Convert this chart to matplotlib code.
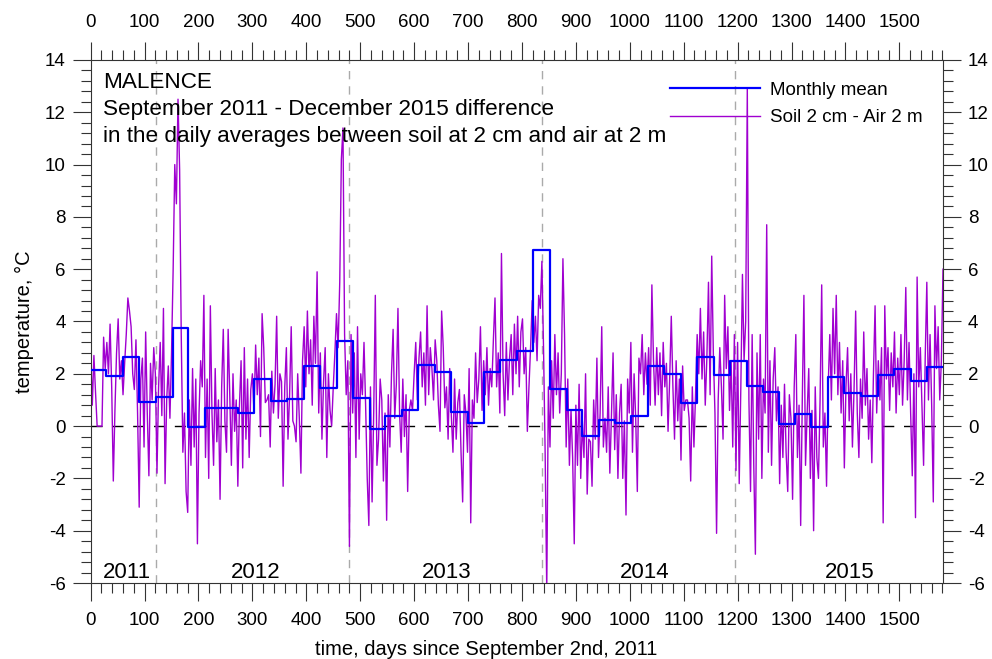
import numpy as np
import pandas as pd
import matplotlib
matplotlib.use("Agg")
import matplotlib.pyplot as plt
from matplotlib.ticker import MultipleLocator

plt.rcParams['font.family'] = ['Liberation Sans', 'DejaVu Sans']
plt.rcParams['axes.unicode_minus'] = False

# Monthly means of soil(2 cm) - air(2 m), Sep 2011 .. Dec 2015
monthly_mean = [
    2.14, 1.90, 2.64, 0.92,
    1.12, 3.76, -0.04, 0.70, 0.68, 0.49, 1.82, 0.95, 1.04, 2.31, 1.47, 3.25,
    1.07, -0.12, 0.38, 0.63, 2.33, 2.07, 0.53, 0.13, 2.07, 2.51, 2.88, 6.74,
    1.40, 0.63, -0.38, 0.24, 0.13, 0.37, 2.31, 1.98, 0.90, 2.64, 1.96, 2.48,
    1.52, 1.32, 0.07, 0.46, -0.03, 1.88, 1.25, 1.16, 1.94, 2.18, 1.72, 2.27,
]

# Difference of daily averages, one value every 3 days from Sep 2nd 2011
soil_air_diff = [
    2.9, 0.8, 2.7, 1.3, 0.0, 0.0, 0.0, 0.0, 3.4, 2.2,
    3.2, 2.0, 3.9, 1.5, -2.1, 0.6, 2.8, 4.1, 1.8, 2.5,
    1.2, 2.4, 3.5, 4.9, 4.4, 3.8, 2.0, 1.4, 3.3, 0.5,
    -3.1, 1.8, 2.6, -0.8, 3.6, 0.5, -1.9, 2.4, 1.0, 3.0,
    2.0, -1.8, 1.5, 3.2, 0.4, 4.5, -2.2, 1.0, 2.3, 0.3,
    2.8, 6.0, 10.0, 8.5, 12.5, 9.8, 3.5, -1.0, 0.5, -2.5,
    -3.3, 1.0, -1.5, 2.2, -0.8, 1.8, -4.5, 0.5, 2.5, 1.5,
    5.0, -1.2, 1.8, -2.0, 4.6, 0.5, -1.5, 2.2, -0.6, 1.0,
    -2.8, 1.5, 3.7, 0.2, -1.0, 3.7, 1.2, -1.5, 2.0, -0.2,
    1.0, -2.3, 0.8, 2.5, -1.6, 3.0, -0.5, 1.8, -1.2, 1.4,
    2.0, 0.5, 3.1, 1.2, 2.6, -0.4, 4.3, 3.0, 0.9, 1.0,
    1.2, -0.8, 2.1, 0.5, 1.6, 4.2, 0.3, 2.0, 1.7, -2.3,
    1.5, 3.0, -0.5, 1.2, 3.8, 0.2, 0.0, -0.6, 2.0, 0.3,
    -1.8, 2.5, 3.8, 1.5, 4.4, 2.0, 3.3, 0.8, 4.2, 2.4,
    5.9, 0.5, 2.8, -0.5, 1.7, 3.0, -1.2, 2.0, 0.6, 0.0,
    1.5, 2.8, 4.3, 3.0, 5.5, 10.2, 11.4, 3.5, 1.2, 2.5,
    -4.6, 3.5, 0.5, 2.8, -1.2, 3.8, -0.5, 2.0, 1.2, 3.2,
    0.8, -2.0, -3.8, 1.5, -2.9, 0.5, 5.0, -1.5, -0.5, 1.8,
    1.0, -2.1, 0.5, -3.6, 1.2, -0.8, 2.0, 3.7, 0.3, 1.6,
    4.5, 0.5, -1.0, 1.8, -0.4, 1.2, -2.5, 0.6, 1.0, 0.6,
    2.0, 3.2, 1.0, 2.6, 3.6, 1.5, 2.8, 0.8, 4.6, 1.2,
    3.0, 2.2, 1.0, 3.3, 2.5, 0.8, -0.2, 4.4, 3.0, 0.7,
    1.5, -0.5, 2.2, 0.4, -1.0, 1.8, -0.5, 0.9, 1.4, -1.0,
    -2.9, 1.2, 0.5, -1.0, 2.2, -3.7, 1.0, 0.3, 2.8, 0.9,
    1.8, 3.8, 0.6, 2.5, 1.2, 3.0, 0.8, 2.2, 1.5, 3.3,
    4.9, 1.5, 2.8, 0.5, 6.6, 2.0, 0.4, 3.2, 1.0, 2.6,
    3.5, 1.2, 3.9, 2.0, 4.2, 1.5, 3.6, 4.1, 2.0, 3.0,
    -0.2, 1.5, 3.0, 4.8, 3.2, 4.2, 2.5, 5.0, 4.5, 6.3,
    3.0, -1.0, -6.3, 1.5, -0.8, 2.5, 0.3, 3.5, 1.2, 2.8,
    0.5, 2.0, 6.4, 3.5, -0.8, 1.8, -1.5, 0.6, -1.2, -4.5,
    0.8, -1.5, 1.6, -2.0, 0.2, -1.2, 2.0, -2.6, -0.5, -0.6,
    -2.3, 1.0, -0.5, 2.6, -1.2, 0.5, 3.8, -0.8, 0.3, -1.0,
    1.5, -1.8, 0.4, 2.8, -0.9, 1.2, -2.0, 0.5, 1.6, -2.0,
    0.2, -3.4, 1.8, 0.5, 3.2, -1.0, 2.0, 0.3, -2.5, 2.6,
    2.0, 3.5, 1.2, 2.8, 1.6, 3.0, 0.8, 5.4, 2.5, 0.8,
    3.0, 1.2, 2.8, 0.4, 3.2, 1.5, 2.4, -0.2, 1.8, 4.2,
    1.5, -0.5, 2.5, 0.2, 1.8, -1.3, 2.3, 0.6, 1.0, 1.0,
    0.3, -2.1, 1.5, -0.8, 1.2, 3.5, 2.0, 4.5, 1.8, 3.6,
    0.8, 2.6, 5.5, 1.2, 6.5, 2.8, 0.5, -4.1, 1.0, 3.0,
    1.5, -0.5, 5.0, 2.2, 3.8, 0.6, 2.5, -0.8, 3.5, -1.7,
    3.2, -2.2, 1.5, 5.8, 2.5, 4.0, 12.9, 1.0, -2.5, 3.5,
    -1.5, -4.9, 2.8, -0.5, 3.5, -2.0, 1.8, 0.5, 7.7, -1.0,
    2.5, -1.5, 1.8, 3.0, 0.2, 1.5, -2.2, 0.8, -1.2, 1.6,
    -1.0, -2.5, 1.2, 0.3, -2.8, 1.5, 3.5, -1.2, 0.8, -3.8,
    1.0, 5.0, -1.5, 0.5, 2.2, -2.0, 0.6, -4.0, 1.5, -1.2,
    -2.0, 1.0, 5.4, -0.8, 0.5, -2.3, 1.5, 3.5, 1.0, 4.5,
    2.0, 5.0, 1.2, 3.2, 0.5, 2.5, -1.6, 1.5, 3.0, 0.2,
    2.0, -0.8, 1.4, 4.4, 0.5, -1.2, 1.8, 0.3, 3.6, 0.8,
    2.2, -0.5, 1.0, -1.4, 2.0, 4.6, 0.5, 2.5, 1.0, 3.0,
    -3.7, 4.6, 1.8, 3.0, 0.6, 2.8, 1.5, 3.6, 0.5, 2.6,
    1.2, 3.5, 0.8, 2.5, 5.3, 1.0, 3.2, 0.5, -1.9, 2.0,
    -3.5, 5.7, 1.5, 3.0, 0.8, -1.5, 2.6, 5.5, 1.0, 3.5,
    0.8, -2.9, 4.6, 2.2, 3.8, 1.0, 2.5, 6.0,
]

years = ["2011", "2012", "2013", "2014", "2015"]
year_label_days = [67, 307, 661, 1027, 1407]
year_break_days = [121, 479, 837, 1195]

start = pd.Timestamp("2011-09-02")
month_starts = pd.date_range("2011-10-01", "2016-01-01", freq="MS")
month_edges = np.array([0] + [(d - start).days for d in month_starts])
diff_days = np.arange(len(soil_air_diff)) * 3

purple = "#a000d0"
blue = "#0000ff"
axis_col = "#333333"

fig = plt.figure(figsize=(9.92, 6.59), dpi=100)
ax = fig.add_axes([0.0914, 0.1153, 0.8592, 0.7937])

ax.axhline(0, color="black", lw=1.0, dashes=(8, 7), zorder=1)
for d in year_break_days:
    ax.axvline(d, color="#aaaaaa", lw=1.0, dashes=(6, 5), zorder=1)

ax.plot(diff_days, soil_air_diff, color=purple, lw=1.0, zorder=2,
        label="Soil 2 cm - Air 2 m")
ax.plot(month_edges, np.append(monthly_mean, monthly_mean[-1]),
        drawstyle="steps-post", color=blue, lw=1.6, zorder=3,
        label="Monthly mean")

ax.set_xlim(0, 1581)
ax.set_ylim(-6, 14)
ax.xaxis.set_major_locator(MultipleLocator(100))
ax.xaxis.set_minor_locator(MultipleLocator(20))
ax.yaxis.set_major_locator(MultipleLocator(2))
ax.yaxis.set_minor_locator(MultipleLocator(0.4))

ax.tick_params(which="both", direction="out", top=True, right=True,
               labeltop=True, labelright=True, color=axis_col, width=0.8,
               labelsize=13.5)
ax.tick_params(which="major", length=13)
ax.tick_params(which="minor", length=7)
ax.tick_params(axis="x", which="major", pad=8)
ax.tick_params(axis="y", which="major", pad=5)
for s in ax.spines.values():
    s.set_color(axis_col)
    s.set_linewidth(0.8)

ax.set_xlabel("time, days since September 2nd, 2011", fontsize=14.5, labelpad=8)
ax.xaxis.set_label_coords(0.464, -0.108)
ax.set_ylabel("temperature, °C", fontsize=14.5, labelpad=8)

for yr, d in zip(years, year_label_days):
    ax.text(d, -5.58, yr, ha="center", va="center", fontsize=16)

title_lines = ["MALENCE",
               "September 2011 - December 2015 difference",
               "in the daily averages between soil at 2 cm and air at 2 m"]
for i, line in enumerate(title_lines):
    fig.text(0.1038, 0.875 - i * 0.041, line, ha="left", va="center",
             fontsize=16.2)

handles, labels = ax.get_legend_handles_labels()
fig.legend(handles[::-1], labels[::-1], loc="upper left",
           bbox_to_anchor=(0.675, 0.876), frameon=False, fontsize=13.5,
           handlelength=4.8, handletextpad=0.55, labelspacing=0.55,
           borderpad=0, borderaxespad=0)

fig.savefig("out.png", dpi=100)
